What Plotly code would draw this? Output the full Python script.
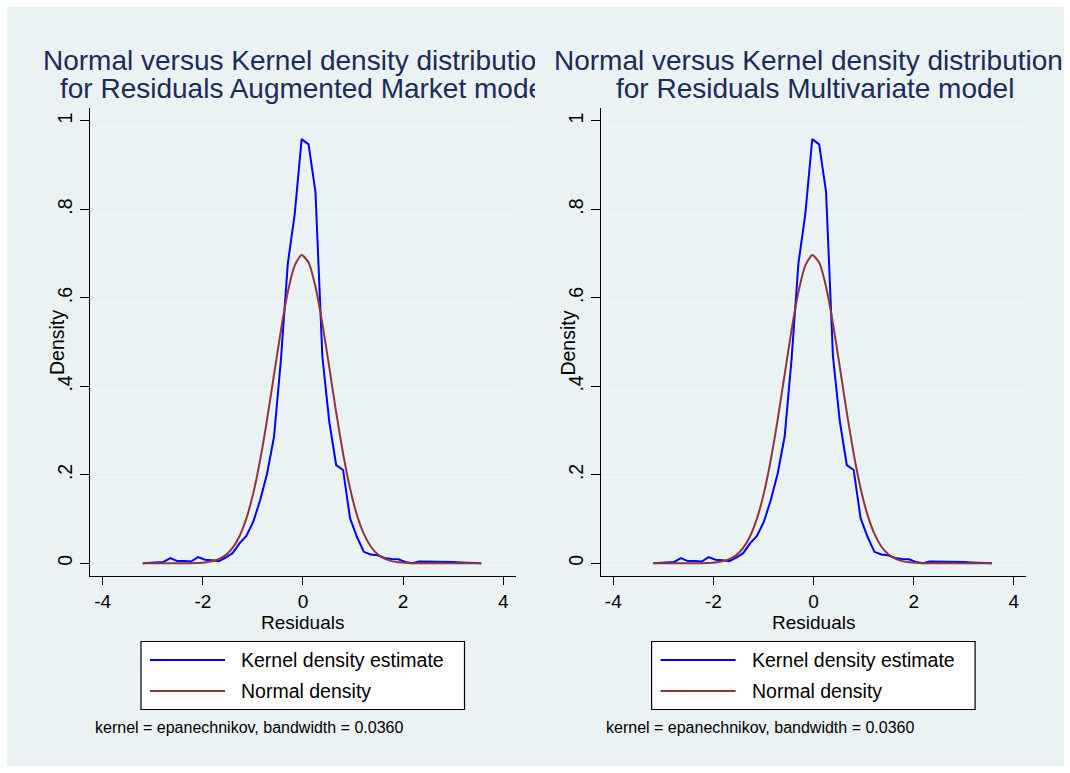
import plotly.graph_objects as go

# ---------------- data ----------------
residual_grid = [-3.200, -3.062, -2.924, -2.786, -2.648, -2.510, -2.372, -2.234, -2.096, -1.958,
                 -1.820, -1.682, -1.544, -1.406, -1.268, -1.130, -0.992, -0.854, -0.716, -0.578,
                 -0.440, -0.302, -0.164, -0.026, 0.112, 0.250, 0.388, 0.526, 0.664, 0.802,
                 0.940, 1.078, 1.216, 1.354, 1.492, 1.630, 1.768, 1.906, 2.044, 2.182,
                 2.320, 2.458, 2.596, 2.734, 2.872, 3.010, 3.148, 3.286, 3.424, 3.562]

kernel_density = [0.000, 0.001, 0.003, 0.003, 0.012, 0.005, 0.005, 0.004, 0.014, 0.008,
                  0.007, 0.005, 0.013, 0.023, 0.045, 0.062, 0.094, 0.143, 0.203, 0.286,
                  0.460, 0.678, 0.790, 0.959, 0.947, 0.840, 0.467, 0.320, 0.222, 0.211,
                  0.102, 0.060, 0.026, 0.020, 0.018, 0.012, 0.010, 0.009, 0.003, 0.000,
                  0.004, 0.004, 0.003, 0.004, 0.003, 0.003, 0.002, 0.001, 0.001, 0.000]

normal_density = [0.000, 0.000, 0.000, 0.000, 0.000, 0.000, 0.0001, 0.0003, 0.0008, 0.002,
                  0.0045, 0.0094, 0.0186, 0.0347, 0.0611, 0.1015, 0.1587, 0.2341, 0.3254, 0.4264,
                  0.5268, 0.6134, 0.6734, 0.6969, 0.6798, 0.6251, 0.5418, 0.4428, 0.3411, 0.2477,
                  0.1695, 0.1094, 0.0666, 0.0381, 0.0206, 0.0105, 0.0050, 0.0023, 0.0010, 0.0004,
                  0.0001, 0.000, 0.000, 0.000, 0.000, 0.000, 0.000, 0.000, 0.000, 0.000]

x_tick_values = [-4, -2, 0, 2, 4]
x_tick_labels = ["-4", "-2", "0", "2", "4"]
y_tick_values = [0, 0.2, 0.4, 0.6, 0.8, 1.0]
y_tick_labels = ["0", ".2", ".4", ".6", ".8", "1"]

title_line1 = ["Normal versus Kernel density distribution", "Normal versus Kernel density distribution"]
title_line2 = ["for Residuals Augmented Market model", "for Residuals Multivariate model"]
legend_labels = ["Kernel density estimate", "Normal density"]
x_title = "Residuals"
y_title = "Density"
note_text = "kernel = epanechnikov, bandwidth = 0.0360"

# ---------------- styling ----------------
W, H = 1070, 773
FONT = "Liberation Sans, Arial, sans-serif"
BG = "#EAF2F3"
GRID = "#E6EEF0"
BLUE = "#0000FF"
MAROON = "#90353B"
TITLE_COLOR = "#1C2B58"


def px(x):
    return x / W


def py(y):
    return 1 - y / H


panel_dx = [0.0, 510.6]
plot_left, plot_right = 90.0, 515.5
plot_top, plot_bottom = 107.7, 575.7

fig = go.Figure()

for i, dx in enumerate(panel_dx):
    sfx = "" if i == 0 else "2"
    fig.add_trace(go.Scatter(x=residual_grid, y=kernel_density, mode="lines",
                             line=dict(color=BLUE, width=2), name=legend_labels[0],
                             xaxis="x" + sfx, yaxis="y" + sfx, showlegend=False,
                             hoverinfo="skip"))
    fig.add_trace(go.Scatter(x=residual_grid, y=normal_density, mode="lines",
                             line=dict(color=MAROON, width=2, shape="spline", smoothing=0.6),
                             name=legend_labels[1],
                             xaxis="x" + sfx, yaxis="y" + sfx, showlegend=False,
                             hoverinfo="skip"))

axis_common_x = dict(range=[-4.254, 4.246], tickmode="array", tickvals=x_tick_values,
                     ticktext=x_tick_labels, showgrid=False, zeroline=False,
                     showline=True, linecolor="#000000", linewidth=1.2,
                     ticks="outside", ticklen=8, tickwidth=1, tickcolor="#000000",
                     tickfont=dict(family=FONT, size=19, color="#000000"))
axis_common_y = dict(range=[-0.028, 1.03], tickmode="array", tickvals=y_tick_values,
                     ticktext=y_tick_labels, showgrid=True, gridcolor=GRID, gridwidth=2,
                     zeroline=False, showline=True, linecolor="#000000", linewidth=1.2,
                     ticks="outside", ticklen=9, tickwidth=1, tickcolor="#000000",
                     tickangle=-90,
                     tickfont=dict(family=FONT, size=19.5, color="#000000"))

layout = dict(
    width=W, height=H,
    margin=dict(l=0, r=0, t=0, b=0),
    paper_bgcolor="#FFFFFF",
    plot_bgcolor="#FFFFFF",
    showlegend=False,
)
for i, dx in enumerate(panel_dx):
    sfx = "" if i == 0 else "2"
    layout["xaxis" + sfx] = dict(axis_common_x,
                                 domain=[px(plot_left + dx), px(plot_right + dx)],
                                 anchor="y" + sfx)
    layout["yaxis" + sfx] = dict(axis_common_y,
                                 domain=[py(plot_bottom), py(plot_top)],
                                 anchor="x" + sfx)
fig.update_layout(**layout)

shapes = [dict(type="rect", xref="paper", yref="paper", x0=px(7), x1=px(1064),
               y0=py(766), y1=py(7), fillcolor=BG, line=dict(width=0), layer="below")]
annotations = []

for i, dx in enumerate(panel_dx):
    # titles (clipped at the next panel's edge, as in the reference)
    clip_right = 535 + dx if i == 0 else 1070
    l1_start = 43 + dx
    l2_start = 60 + dx if i == 0 else 616
    annotations.append(dict(text=title_line1[i], xref="paper", yref="paper",
                            x=px(l1_start), y=py(60), xanchor="left", yanchor="middle",
                            showarrow=False, align="left", borderpad=0, borderwidth=0,
                            width=clip_right - l1_start,
                            font=dict(family=FONT, size=28, color=TITLE_COLOR)))
    annotations.append(dict(text=title_line2[i], xref="paper", yref="paper",
                            x=px(l2_start), y=py(89), xanchor="left", yanchor="middle",
                            showarrow=False, align="left", borderpad=0, borderwidth=0,
                            width=clip_right - l2_start,
                            font=dict(family=FONT, size=28, color=TITLE_COLOR)))
    # axis titles
    annotations.append(dict(text=x_title, xref="paper", yref="paper",
                            x=px(302.7 + dx), y=py(622), xanchor="center", yanchor="middle",
                            showarrow=False, font=dict(family=FONT, size=19, color="#000000")))
    annotations.append(dict(text=y_title, xref="paper", yref="paper",
                            x=px(57 + dx), y=py(343), xanchor="center", yanchor="middle",
                            textangle=-90, showarrow=False,
                            font=dict(family=FONT, size=19.5, color="#000000")))
    # legend box
    shapes.append(dict(type="rect", xref="paper", yref="paper",
                       x0=px(141 + dx), x1=px(464.5 + dx), y0=py(709.5), y1=py(641.5),
                       fillcolor="#FFFFFF", line=dict(color="#000000", width=1.2)))
    for j, (col, yy) in enumerate([(BLUE, 660), (MAROON, 691)]):
        shapes.append(dict(type="line", xref="paper", yref="paper",
                           x0=px(150 + dx), x1=px(225 + dx), y0=py(yy), y1=py(yy),
                           line=dict(color=col, width=2)))
        annotations.append(dict(text=legend_labels[j], xref="paper", yref="paper",
                                x=px(239 + dx), y=py(yy), xanchor="left", yanchor="middle",
                                showarrow=False,
                                font=dict(family=FONT, size=19.5, color="#000000")))
    # note
    annotations.append(dict(text=note_text, xref="paper", yref="paper",
                            x=px(93 + dx), y=py(727), xanchor="left", yanchor="middle",
                            showarrow=False, font=dict(family=FONT, size=16, color="#000000")))

fig.update_layout(shapes=shapes, annotations=annotations)

fig.write_html("out.html", config={"displayModeBar": False},
               post_script="document.body.style.margin='0';document.body.style.overflow='hidden';")
